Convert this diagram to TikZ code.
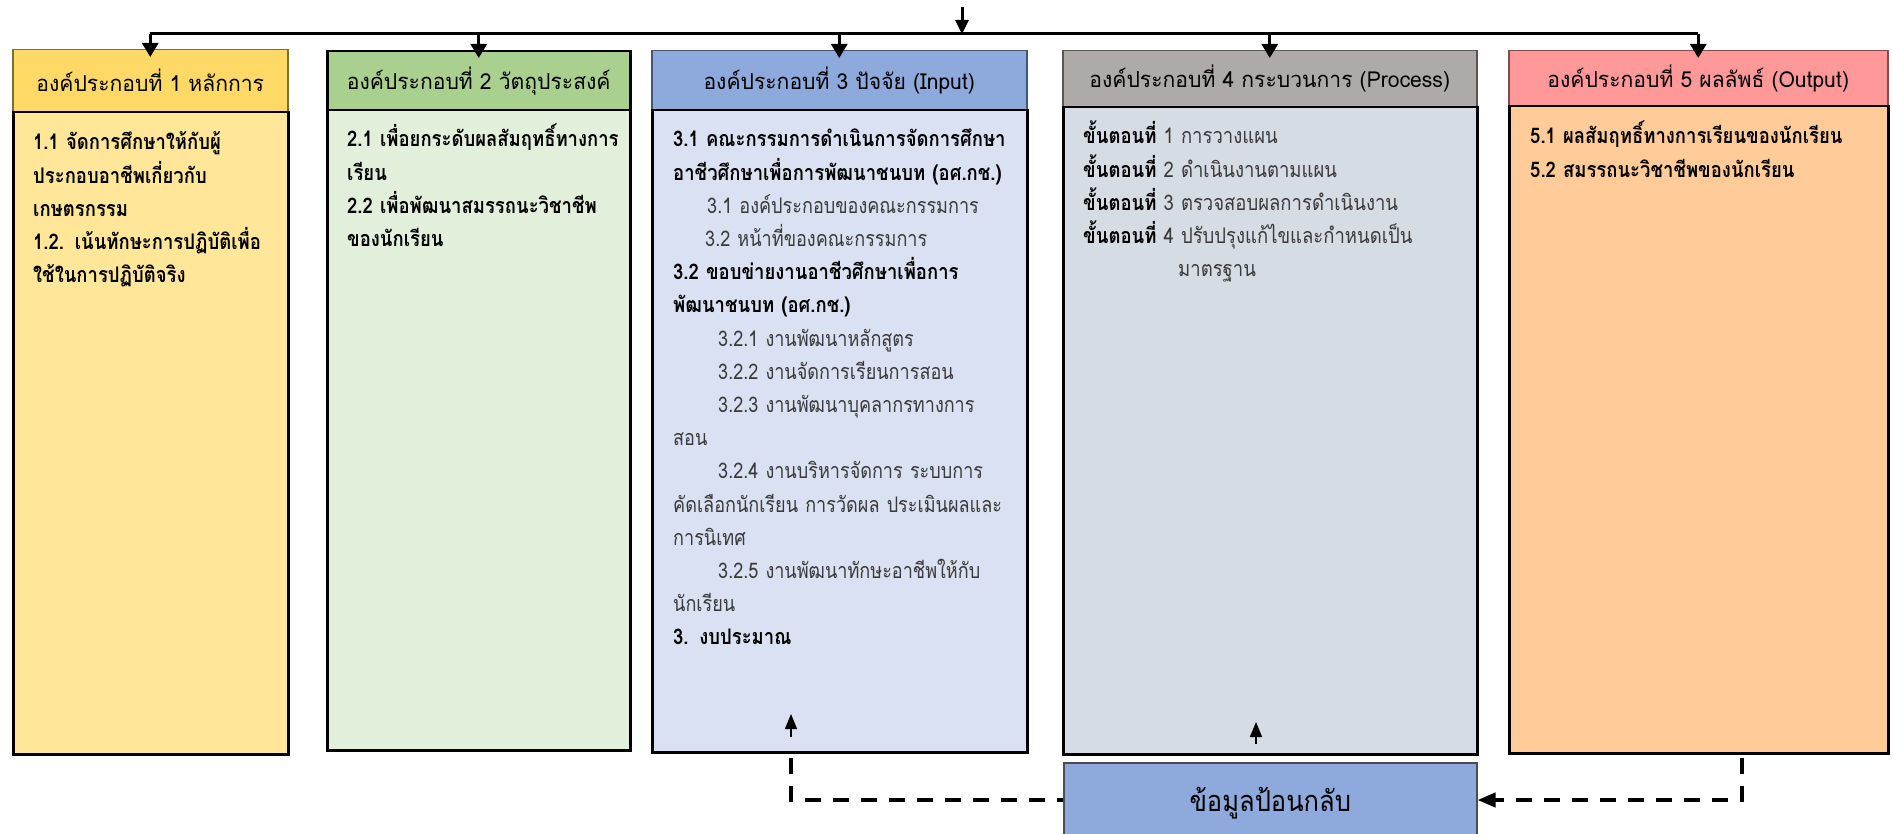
\documentclass[tikz,border=0pt]{standalone}
\usepackage{fontspec}
\setmainfont[Script=Thai]{Loma}
\newfontfamily\headfont[Script=Thai, FakeStretch=0.96]{Loma}
\newfontfamily\bodyfont[Script=Thai, FakeStretch=0.86]{Loma}
\newfontfamily\subfont[Script=Thai, FakeStretch=0.84]{Loma}
\newfontfamily\fbfont[Script=Thai, FakeStretch=0.88]{Loma}
\usetikzlibrary{arrows.meta}
\definecolor{hA}{HTML}{FFD966}\definecolor{bA}{HTML}{FFE699}
\definecolor{hB}{HTML}{A9D08E}\definecolor{bB}{HTML}{E2EFDA}
\definecolor{hC}{HTML}{8EA9DB}\definecolor{bC}{HTML}{D9E1F2}
\definecolor{hD}{HTML}{AEAAAA}\definecolor{bD}{HTML}{D6DCE4}
\definecolor{hE}{HTML}{FF9999}\definecolor{bE}{HTML}{FFCC99}
\definecolor{fb}{HTML}{8EA9DB}
\definecolor{txtgray}{HTML}{3A3A3A}
\tikzset{
  headbox/.style={draw=black!75, line width=1.5pt, anchor=north west, inner sep=0pt,
    font=\headfont\fontsize{22}{26}\selectfont, text=black},
  bodybox/.style={draw=black, line width=2.5pt, anchor=north west, inner sep=0pt},
  bodytext/.style={anchor=base west, inner sep=0pt, align=left, text width=700pt,
    font=\bodyfont\fontsize{21.5}{33.2}\selectfont},
  busline/.style={line width=3pt},
  busarrow/.style={line width=3pt, -{Triangle[width=16pt,length=14pt]}, shorten >=-8pt},
  uparrow/.style={line width=1.5pt, -{Triangle[width=12pt,length=15pt]}},
  fbline/.style={line width=4pt, dash pattern=on 16pt off 12pt},
}
\newcommand{\ind}[1]{\hspace*{#1pt}}
\newcommand{\sub}[2]{\ind{#1}{\subfont #2}}
\begin{document}
\begin{tikzpicture}[x=1pt,y=-1pt]
\clip (0,0) rectangle (1892,834);
% headers
\node[headbox, draw=hA!50!black, fill=hA, minimum width=275pt, minimum height=62pt] (h1) at (12,49) {องค์ประกอบที่ 1 หลักการ};
\node[headbox, draw=black, line width=2.5pt, fill=hB, minimum width=303pt, minimum height=59pt] (h2) at (326,50) {องค์ประกอบที่ 2 วัตถุประสงค์};
\node[headbox, draw=hC!50!black, fill=hC, minimum width=375pt, minimum height=59pt] (h3) at (651,50) {องค์ประกอบที่ 3 ปัจจัย (Input)};
\node[headbox, draw=hD!50!black, fill=hD, minimum width=414pt, minimum height=56pt] (h4) at (1062,50) {องค์ประกอบที่ 4 กระบวนการ (Process)};
\node[headbox, draw=hE!50!black, fill=hE, minimum width=379pt, minimum height=55pt] (h5) at (1508,50) {องค์ประกอบที่ 5 ผลลัพธ์ (Output)};
% bodies
\node[bodybox, fill=bA, minimum width=275pt, minimum height=642pt] (b1) at (12,111) {};
\node[bodybox, fill=bB, minimum width=303pt, minimum height=640pt] (b2) at (326,109) {};
\node[bodybox, fill=bC, minimum width=375pt, minimum height=642pt] (b3) at (651,109) {};
\node[bodybox, fill=bD, minimum width=414pt, minimum height=647pt] (b4) at (1062,106) {};
\node[bodybox, fill=bE, minimum width=379pt, minimum height=647pt] (b5) at (1508,105) {};
% feedback
\node[draw=black!70, line width=1.5pt, fill=fb, anchor=north west, minimum width=413pt, minimum height=80pt,
  font=\fbfont\fontsize{29}{34}\selectfont] (fbk) at (1063,762) {ข้อมูลป้อนกลับ};
% body texts
\node[bodytext] (t1) at (33,150) {\bfseries 1.1 จัดการศึกษาให้กับผู้\\ \bfseries ประกอบอาชีพเกี่ยวกับ\\ \bfseries เกษตรกรรม\\ \bfseries 1.2. เน้นทักษะการปฏิบัติเพื่อ\\ \bfseries ใช้ในการปฏิบัติจริง};
\node[bodytext] (t2) at (347,147) {\bfseries 2.1 เพื่อยกระดับผลสัมฤทธิ์ทางการ\\ \bfseries เรียน\\ \bfseries 2.2 เพื่อพัฒนาสมรรถนะวิชาชีพ\\ \bfseries ของนักเรียน};
\node[bodytext, text=txtgray] (t3) at (673,147) {%
{\bfseries\color{black} 3.1 คณะกรรมการดำเนินการจัดการศึกษา}\\
{\bfseries\color{black} อาชีวศึกษาเพื่อการพัฒนาชนบท (อศ.กช.)}\\
\sub{34}{3.1 องค์ประกอบของคณะกรรมการ}\\
\sub{32}{3.2 หน้าที่ของคณะกรรมการ}\\
{\bfseries\color{black} 3.2 ขอบข่ายงานอาชีวศึกษาเพื่อการ}\\
{\bfseries\color{black} พัฒนาชนบท (อศ.กช.)}\\
\sub{45}{3.2.1 งานพัฒนาหลักสูตร}\\
\sub{45}{3.2.2 งานจัดการเรียนการสอน}\\
\sub{45}{3.2.3 งานพัฒนาบุคลากรทางการ}\\
\sub{0}{สอน}\\
\sub{45}{3.2.4 งานบริหารจัดการ ระบบการ}\\
\sub{0}{คัดเลือกนักเรียน การวัดผล ประเมินผลและ}\\
\sub{0}{การนิเทศ}\\
\sub{45}{3.2.5 งานพัฒนาทักษะอาชีพให้กับ}\\
\sub{0}{นักเรียน}\\
{\bfseries\color{black} 3. งบประมาณ}};
\node[bodytext, text=txtgray] (t4) at (1083,144) {%
{\bfseries\color{black} ขั้นตอนที่} 1 การวางแผน\\
{\bfseries\color{black} ขั้นตอนที่} 2 ดำเนินงานตามแผน\\
{\bfseries\color{black} ขั้นตอนที่} 3 ตรวจสอบผลการดำเนินงาน\\
{\bfseries\color{black} ขั้นตอนที่} 4 ปรับปรุงแก้ไขและกำหนดเป็น\\
\ind{95}มาตรฐาน};
\node[bodytext] (t5) at (1530,144) {\bfseries 5.1 ผลสัมฤทธิ์ทางการเรียนของนักเรียน\\ \bfseries 5.2 สมรรถนะวิชาชีพของนักเรียน};
% bus
\coordinate (bus) at (0,34);
\coordinate (src) at (962,7);
\draw[busline] (h1.north |- bus) -- (h5.north |- bus);
\draw[busline, -{Triangle[width=13pt,length=14pt]}] (src) -- (src |- bus);
\foreach \h in {h1,h2,h3,h4,h5} \draw[busarrow] (\h.north |- bus) -- (\h.north);
% small arrows
\coordinate (u3) at (791,737);
\coordinate (u4) at (1256,744);
\draw[uparrow] (u3) -- ++(0,-23);
\draw[uparrow] (u4) -- ++(0,-22);
% feedback dashed lines
\coordinate (d5) at (1742,758);
\coordinate (d3) at (791,758);
\coordinate (fy) at (0,800);
\draw[fbline, -{Triangle[width=14pt,length=18pt]}] (d5) |- (fbk.east |- fy);
\draw[fbline] (d3) |- (fbk.west |- fy);
\end{tikzpicture}
\end{document}
